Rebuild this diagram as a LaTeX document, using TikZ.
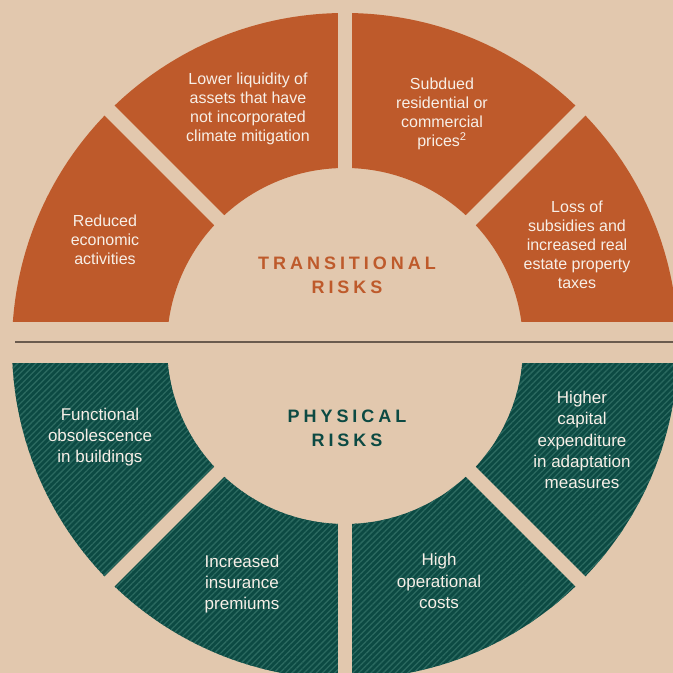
\documentclass[tikz,border=0pt]{standalone}
\usepackage{fontspec}
\setmainfont{Liberation Sans}
\usetikzlibrary{patterns.meta}
\definecolor{sand}{HTML}{E2C8AE}
\definecolor{rust}{HTML}{BE5A2B}
\definecolor{pine}{HTML}{0C4A43}
\definecolor{pinestripe}{HTML}{2B6A60}
\definecolor{cream}{HTML}{F7EFE7}
\definecolor{rule}{HTML}{6A5B4E}

\begin{document}
\begin{tikzpicture}[x=1pt,y=1pt,
  risk/.style={align=center,text=cream,font=\fontsize{16}{19}\selectfont},
  riskwide/.style={risk,font=\fontsize{17}{21.3}\selectfont},
  heading/.style={align=center,font=\fontsize{18}{24}\selectfont\bfseries\addfontfeatures{LetterSpace=22}},
  gap/.style={draw=sand,line width=14pt}]
\useasboundingbox (0,0) rectangle (673,673);
\fill[sand] (0,0) rectangle (673,673);
\coordinate (c) at (345,327);
% transitional half
\begin{scope}
\clip (0,351) rectangle (673,673);
\fill[rust,even odd rule] (c) circle[radius=333] (c) circle[radius=178];
\foreach \a in {45,90,135}
  \draw[gap] (c) -- ++(\a:345);
\end{scope}
% physical half
\begin{scope}
\clip (0,0) rectangle (673,309);
\fill[pine,even odd rule] (c) circle[radius=333] (c) circle[radius=178];
\fill[pattern={Lines[angle=45,distance=4.3pt,line width=1.3pt]},pattern color=pinestripe,even odd rule]
  (c) circle[radius=333] (c) circle[radius=178];
\foreach \a in {225,270,315}
  \draw[gap] (c) -- ++(\a:345);
\end{scope}
% dividing rule
\coordinate (ruleL) at (15,331);
\coordinate (ruleR) at (673,331);
\draw[rule,line width=1.8pt] (ruleL) -- (ruleR);
% headings
\node[heading,text=rust] (trans) at (347,398) {TRANSITIONAL\\RISKS};
\node[heading,text=pine] (phys) at (347,245) {PHYSICAL\\RISKS};
% transitional risks
\node[risk] (reduced) at (105,433) {Reduced\\economic\\activities};
\node[risk] (liquidity) at (248,564) {Lower liquidity of\\assets that have\\not incorporated\\climate mitigation};
\node[risk] (subdued) at (442,559) {Subdued\\residential or\\commercial\\prices\textsuperscript{2}};
\node[risk] (subsidies) at (577,428) {Loss of\\subsidies and\\increased real\\estate property\\taxes};
% physical risks
\node[riskwide] (obsolete) at (100,236) {Functional\\obsolescence\\in buildings};
\node[riskwide] (insurance) at (242,89) {Increased\\insurance\\premiums};
\node[riskwide] (operating) at (439,92) {High\\operational\\costs};
\node[riskwide] (capex) at (582,233) {Higher\\capital\\expenditure\\in adaptation\\measures};
\end{tikzpicture}
\end{document}
